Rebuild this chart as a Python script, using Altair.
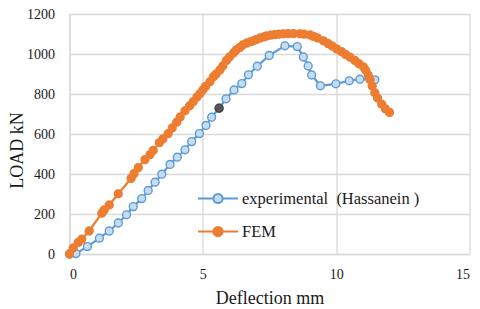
import altair as alt
import pandas as pd

# ---- data ----
series_names = ["experimental\u00a0 (Hassanein )", "FEM"]

exp_x = [0.0, 0.24, 0.67, 1.12, 1.49, 1.83, 2.14, 2.39, 2.71, 2.95, 3.21, 3.46, 3.77,
         4.04, 4.33, 4.58, 4.87, 5.12, 5.33, 5.61, 5.87, 6.17, 6.46, 6.71, 7.04, 7.49,
         8.08, 8.54, 8.77, 8.95, 9.08, 9.41, 9.99, 10.49, 10.89, 11.45]
exp_y = [0, 2, 37, 79, 115, 155, 196, 237, 277, 318, 359, 399, 448,
         484, 521, 562, 602, 643, 684, 729, 776, 820, 852, 896, 939, 993,
         1041, 1037, 985, 940, 895, 841, 851, 866, 874, 871]
exp_dark_index = 19  # the single highlighted (dark) marker

fem_x = [0.0, 0.14, 0.33, 0.46, 0.74, 1.21, 1.3, 1.49, 1.83, 2.31, 2.42, 2.58, 2.83, 3.02,
         3.14, 3.37, 3.5, 3.70, 3.85, 4.02, 4.15, 4.33, 4.5, 4.64, 4.78, 4.89, 5.0, 5.1,
         5.27, 5.4, 5.5, 5.64, 5.75, 5.89, 6.0, 6.15, 6.25, 6.39, 6.5, 6.65, 6.8, 6.89,
         7.0, 7.15, 7.3, 7.39, 7.55, 7.7, 7.85, 8.02, 8.2, 8.4, 8.64, 8.8, 9.02, 9.15,
         9.3, 9.52, 9.7, 9.85, 10.02, 10.2, 10.35, 10.52, 10.7, 10.85, 11.02, 11.1, 11.2,
         11.27, 11.35, 11.45, 11.55, 11.71, 11.85, 12.0]
fem_y = [0, 30, 58, 74, 115, 204, 220, 245, 301, 378, 402, 432, 472, 497,
         518, 557, 575, 602, 630, 659, 685, 716, 740, 762, 785, 801, 820, 838,
         862, 887, 900, 920, 940, 968, 985, 1005, 1020, 1033, 1045, 1055, 1062, 1066,
         1072, 1080, 1086, 1090, 1094, 1097, 1099, 1101, 1102, 1102, 1101, 1099, 1095, 1088,
         1080, 1066, 1052, 1040, 1025, 1012, 998, 984, 968, 952, 936, 920, 895,
         871, 840, 806, 780, 749, 725, 708]

x_ticks = [0, 5, 10, 15]
y_ticks = [0, 200, 400, 600, 800, 1000, 1200]

line_colors = ["#5b9bd5", "#ed7d31"]
fill_colors = ["#c8dcf1", "#ed7d31"]

rows = []
for i, (x, y) in enumerate(zip(exp_x, exp_y)):
    rows.append({"series": series_names[0], "order": i, "x": x, "y": y,
                 "dark": i == exp_dark_index})
for i, (x, y) in enumerate(zip(fem_x, fem_y)):
    rows.append({"series": series_names[1], "order": i, "x": x, "y": y, "dark": False})
df = pd.DataFrame(rows)

FONT = "Liberation Serif"
TXT = "#1a1a1a"

x_enc = alt.X("x:Q", scale=alt.Scale(domain=[0, 15], nice=False),
              axis=alt.Axis(values=x_ticks, title="Deflection mm", labelPadding=13,
                            titlePadding=8, labelFont=FONT, labelFontSize=14,
                            titleFont=FONT, titleFontSize=18, format="d"))
y_enc = alt.Y("y:Q", scale=alt.Scale(domain=[0, 1200], nice=False),
              axis=alt.Axis(values=y_ticks, title="LOAD kN", labelPadding=15,
                            titleX=-61, titleY=136, titleBaseline="top",
                            titleAlign="center", titleAngle=270,
                            labelFont=FONT, labelFontSize=14,
                            titleFont=FONT, titleFontSize=18, format="d"))

leg_path = ("M-1,0L-0.23,0M0.23,0L1,0"
            "M0.23,0A0.23,0.23 0 1,1 -0.23,0A0.23,0.23 0 1,1 0.23,0Z")

legend = alt.Legend(title=None, orient="none", legendX=127.5, legendY=176,
                    symbolType=leg_path, symbolSize=1600, symbolStrokeWidth=2,
                    clipHeight=17, rowPadding=16, labelOffset=3, padding=0,
                    labelFont=FONT, labelFontSize=16.5, labelColor=TXT,
                    labelLimit=400, symbolOpacity=1)

base = alt.Chart(df)

lines = base.mark_line(strokeWidth=2.2).encode(
    x=x_enc, y=y_enc,
    stroke=alt.Stroke("series:N",
                      scale=alt.Scale(domain=series_names, range=line_colors),
                      legend=legend),
    order="order:Q",
)

points = base.mark_point(shape="circle", filled=True, size=62, strokeWidth=1.4,
                         opacity=1).encode(
    x=x_enc, y=y_enc,
    fill=alt.Fill("series:N",
                  scale=alt.Scale(domain=series_names, range=fill_colors),
                  legend=legend),
    stroke=alt.Stroke("series:N", legend=legend),
)

dark = base.transform_filter("datum.dark").mark_point(
    shape="circle", filled=True, size=62, strokeWidth=1.4, opacity=1,
    fill="#555555", stroke="#444444").encode(x=x_enc, y=y_enc)

chart = alt.layer(lines, points, dark).properties(
    width=400, height=240, autosize="none",
    padding={"left": 61.5, "top": 6, "right": 2, "bottom": 54},
).configure(
    font=FONT,
).configure_axis(
    grid=True, gridColor="#d9d9d9", gridWidth=1.3,
    domainColor="#d9d9d9", domainWidth=1.3, ticks=False,
    labelFont=FONT, labelFontSize=14, labelColor=TXT,
    titleFont=FONT, titleFontSize=18, titleFontWeight="normal", titleColor=TXT,
).configure_legend(
    labelFont=FONT,
).configure_view(stroke=None)

chart.save("out.html", embed_options={"renderer": "svg", "actions": False})
